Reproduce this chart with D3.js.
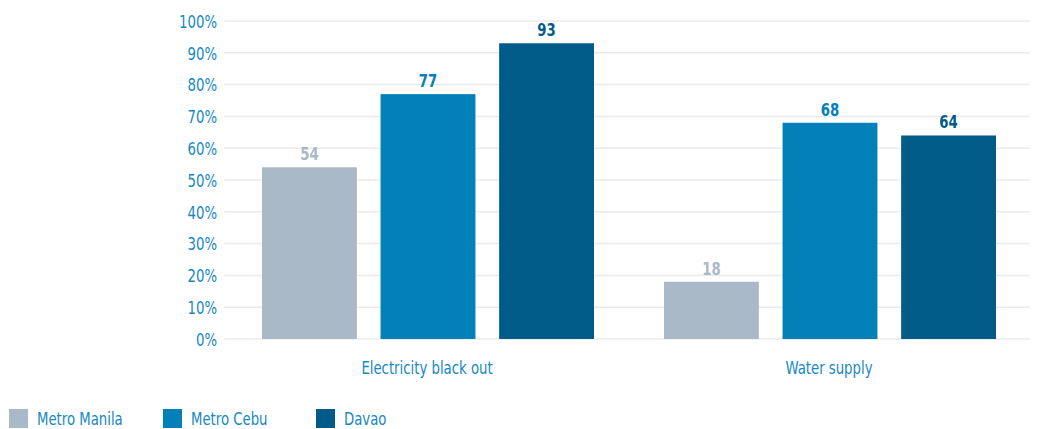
<!DOCTYPE html>
<html>
<head>
<meta charset="utf-8">
<script src="https://cdn.jsdelivr.net/npm/d3@7"></script>
<style>
  html, body { margin: 0; padding: 0; background: #fff; }
  svg text { font-family: "DejaVu Sans Condensed", "DejaVu Sans", sans-serif; }
</style>
</head>
<body>
<svg id="chart" width="1037" height="429"></svg>
<script>
// Share of respondents reporting service disruptions, by city
const categories = ["Electricity black out", "Water supply"];
const seriesNames = ["Metro Manila", "Metro Cebu", "Davao"];
const manilaValues = [54, 18];
const cebuValues = [77, 68];
const davaoValues = [93, 64];
const yTicks = [0, 10, 20, 30, 40, 50, 60, 70, 80, 90, 100];
const seriesColors = ["#a9b9c7", "#0280b8", "#005b88"];
const textBlue = "#1688c2";

const seriesValues = [manilaValues, cebuValues, davaoValues];

const svg = d3.select("#chart");
const plot = { left: 226, right: 1030, top: 21, bottom: 339 };

// narrow the glyphs horizontally around each text's own anchor point
const squeeze = 0.82;
function condense(sel) {
  sel.each(function () {
    const t = d3.select(this);
    const x = +t.attr("x") || 0, yy = +t.attr("y") || 0;
    t.attr("x", 0).attr("y", 0)
      .attr("transform", `translate(${x},${yy}) scale(${squeeze},1)`);
  });
}

const y = d3.scaleLinear().domain([0, 100]).range([plot.bottom, plot.top]);
const x0 = d3.scaleBand().domain(categories).range([plot.left, plot.right]).padding(0);
const x1 = d3.scaleBand().domain(seriesNames)
  .range([36, x0.bandwidth() - 34])
  .paddingInner(0.2).paddingOuter(0);

// horizontal gridlines
svg.append("g").selectAll("line").data(yTicks).join("line")
  .attr("x1", plot.left - 2).attr("x2", plot.right)
  .attr("y1", d => y(d)).attr("y2", d => y(d))
  .attr("stroke", "#ebebeb").attr("stroke-width", 1.5);

// y axis labels
const yAxis = d3.axisLeft(y).tickValues(yTicks).tickFormat(d => d + "%").tickSize(0).tickPadding(0);
const yg = svg.append("g").attr("transform", `translate(${plot.left - 9},0)`).call(yAxis);
yg.select(".domain").remove();
yg.selectAll("text").attr("fill", textBlue).attr("font-size", 18).attr("dy", "0.35em").call(condense);

// bars
const groups = svg.append("g").selectAll("g").data(categories).join("g")
  .attr("transform", d => `translate(${x0(d)},0)`);

const rows = ci => seriesNames.map((s, si) => ({ series: s, si, value: seriesValues[si][ci] }));

groups.each(function (c, ci) {
  const g = d3.select(this);
  const data = rows(ci);
  g.selectAll("rect").data(data).join("rect")
    .attr("x", d => x1(d.series))
    .attr("width", x1.bandwidth())
    .attr("y", d => y(d.value))
    .attr("height", d => y(0) - y(d.value))
    .attr("fill", d => seriesColors[d.si]);
  g.selectAll("text.val").data(data).join("text")
    .attr("class", "val")
    .attr("x", d => x1(d.series) + x1.bandwidth() / 2)
    .attr("y", d => y(d.value) - 7)
    .attr("text-anchor", "middle")
    .attr("font-size", 18).attr("font-weight", "bold")
    .attr("fill", d => seriesColors[d.si])
    .text(d => d.value)
    .call(condense);
});

// category labels
const xAxis = d3.axisBottom(x0).tickSize(0).tickPadding(0);
const xg = svg.append("g").attr("transform", `translate(0,${plot.bottom + 35})`).call(xAxis);
xg.select(".domain").remove();
xg.selectAll("text").attr("fill", textBlue).attr("font-size", 18).attr("dy", 0).call(condense);

// legend
const legendX = [9, 163, 316];
const legend = svg.append("g").selectAll("g").data(seriesNames).join("g")
  .attr("transform", (d, i) => `translate(${legendX[i]},409)`);
legend.append("rect").attr("width", 19).attr("height", 19)
  .attr("fill", (d, i) => seriesColors[i]);
legend.append("text").attr("x", 28).attr("y", 16)
  .attr("font-size", 18).attr("fill", textBlue).text(d => d).call(condense);
</script>
</body>
</html>
